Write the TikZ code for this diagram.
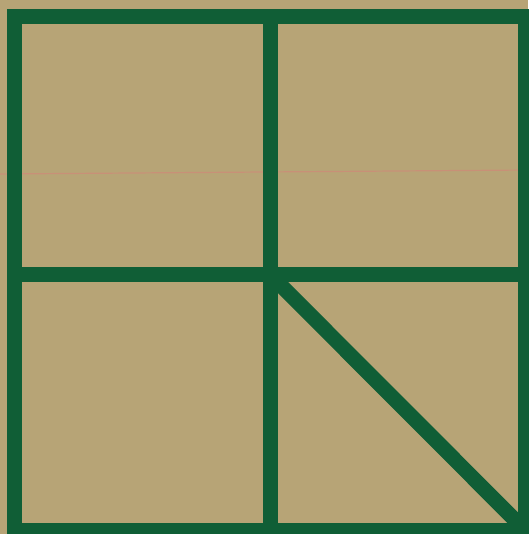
\documentclass[tikz,border=0pt]{standalone}
\definecolor{paper}{RGB}{183,164,118}
\definecolor{frame}{RGB}{16,94,54}
\definecolor{streak}{RGB}{205,140,120}
\begin{document}
\begin{tikzpicture}[x=1pt,y=-1pt,
  bar/.style={draw=frame,line width=15pt,line join=miter}]
\fill[paper] (0,0) rectangle (528,534);
\useasboundingbox (0,0) rectangle (528,534);
\draw[streak,line width=1.2pt,opacity=0.8] (0,174) -- (528,170);
\coordinate (tl) at (14.5,16.5);
\coordinate (br) at (525,530);
\coordinate (c) at (270,274.5);
\coordinate (tm) at (270,16.5);
\coordinate (bm) at (270,530);
\coordinate (lm) at (14.5,274.5);
\coordinate (rm) at (525,274.5);
\draw[bar] (tl) rectangle (br);
\draw[bar] (tm) -- (bm);
\draw[bar] (lm) -- (rm);
\draw[bar] (c) -- (br);
\end{tikzpicture}
\end{document}
